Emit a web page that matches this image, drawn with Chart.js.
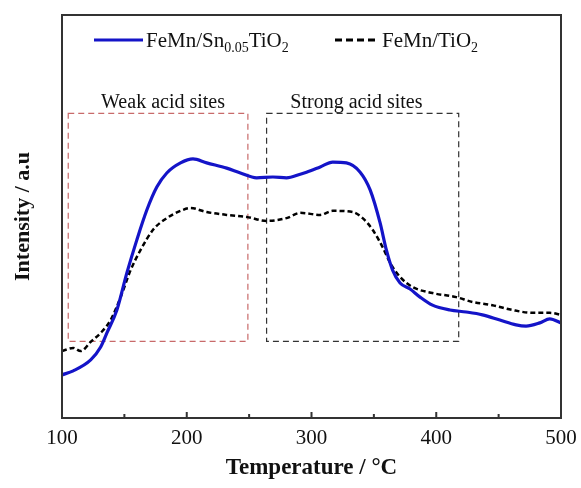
<!DOCTYPE html>
<html>
<head>
<meta charset="utf-8">
<script src="https://cdn.jsdelivr.net/npm/chart.js@4"></script>
<style>
  html, body { margin: 0; padding: 0; background: #fff; }
</style>
</head>
<body>
<canvas id="tpd-chart" width="581" height="488"></canvas>
<script>
// FeMn/Sn0.05TiO2 (blue, solid)
const tempSn = [100, 109, 123, 131, 136, 144, 152, 160, 168, 176, 184, 195, 205, 216, 232, 243, 256, 269, 280, 291, 296, 307, 317, 328, 339, 347, 355, 360, 365, 371, 379, 387, 397, 411, 424, 437, 451, 464, 472, 483, 491, 500];
const intensitySn = [10.7, 11.7, 14.4, 17.6, 21.1, 26.8, 36.0, 44.2, 51.6, 57.3, 60.8, 63.3, 64.3, 63.3, 62.0, 60.8, 59.6, 59.8, 59.6, 60.5, 61.0, 62.3, 63.5, 63.3, 61.0, 56.6, 48.4, 41.7, 36.7, 33.5, 32.0, 30.0, 28.0, 26.8, 26.3, 25.6, 24.3, 23.1, 22.8, 23.6, 24.6, 23.6];

// FeMn/TiO2 (black, dashed)
const tempTi = [100, 109, 115, 123, 131, 139, 147, 155, 163, 173, 184, 195, 203, 216, 232, 248, 264, 280, 291, 307, 317, 333, 341, 349, 357, 363, 371, 381, 397, 416, 429, 445, 461, 477, 491, 500];
const intensityTi = [16.6, 17.4, 16.6, 18.9, 21.1, 24.3, 30.0, 36.7, 41.7, 46.7, 49.6, 51.4, 52.1, 51.1, 50.4, 49.9, 48.9, 49.6, 50.9, 50.4, 51.4, 51.1, 49.6, 46.7, 42.4, 38.5, 35.0, 32.5, 31.0, 30.0, 28.8, 28.0, 26.8, 26.1, 26.1, 25.6];

const xTickValues = [100, 200, 300, 400, 500];
const minorTickValues = [150, 250, 350, 450];

const regionNames = ['Weak acid sites', 'Strong acid sites'];
const regionTempRanges = [[105, 249], [264, 418]];
const regionLabelTemps = [181, 336];
const regionIntensityRange = [19, 75.6];

const serif = "'Liberation Serif', 'Times New Roman', serif";

const toPoints = (xs, ys) => xs.map((x, i) => ({ x: x, y: ys[i] }));

// draws text runs, some of them as subscripts
const drawRichText = (ctx, runs, x, y, size, color) => {
    let cx = x;
    ctx.fillStyle = color;
    ctx.textAlign = 'left';
    ctx.textBaseline = 'alphabetic';
    runs.forEach(([txt, sub]) => {
        const fs = sub ? Math.round(size * 0.68) : size;
        ctx.font = fs + 'px ' + serif;
        ctx.fillText(txt, cx, sub ? y + 5 : y);
        cx += ctx.measureText(txt).width;
    });
};

const decorPlugin = {
    id: 'decor',
    beforeDatasetsDraw(chart) {
        const { ctx, scales: { x, y } } = chart;
        ctx.save();
        ctx.lineWidth = 1.2;
        ctx.setLineDash([6, 4]);
        const boxColors = ['#c86a6a', '#333333'];
        regionTempRanges.forEach((range, i) => {
            const left = x.getPixelForValue(range[0]);
            const right = x.getPixelForValue(range[1]);
            const top = y.getPixelForValue(regionIntensityRange[1]);
            const bottom = y.getPixelForValue(regionIntensityRange[0]);
            ctx.strokeStyle = boxColors[i];
            ctx.strokeRect(left, top, right - left, bottom - top);

            ctx.fillStyle = '#111';
            ctx.font = '20px ' + serif;
            ctx.textAlign = 'center';
            ctx.textBaseline = 'alphabetic';
            ctx.fillText(regionNames[i], x.getPixelForValue(regionLabelTemps[i]), top - 5);
        });
        ctx.restore();
    },
    afterDraw(chart) {
        const { ctx, chartArea: area, scales: { x } } = chart;
        ctx.save();
        // frame
        ctx.strokeStyle = '#333';
        ctx.lineWidth = 2;
        ctx.setLineDash([]);
        ctx.strokeRect(area.left, area.top, area.right - area.left, area.bottom - area.top);

        // inward ticks
        ctx.beginPath();
        xTickValues.forEach(v => {
            const px = x.getPixelForValue(v);
            ctx.moveTo(px, area.bottom);
            ctx.lineTo(px, area.bottom - 6);
        });
        minorTickValues.forEach(v => {
            const px = x.getPixelForValue(v);
            ctx.moveTo(px, area.bottom);
            ctx.lineTo(px, area.bottom - 4);
        });
        ctx.stroke();

        // legend
        const ly = area.top + 25;
        ctx.strokeStyle = '#1414c8';
        ctx.lineWidth = 3;
        ctx.beginPath();
        ctx.moveTo(94, ly);
        ctx.lineTo(143, ly);
        ctx.stroke();
        drawRichText(ctx, [['FeMn/Sn', false], ['0.05', true], ['TiO', false], ['2', true]], 146, ly + 7, 21, '#111');

        ctx.strokeStyle = '#000';
        ctx.setLineDash([7, 4]);
        ctx.beginPath();
        ctx.moveTo(335, ly);
        ctx.lineTo(378, ly);
        ctx.stroke();
        drawRichText(ctx, [['FeMn/TiO', false], ['2', true]], 382, ly + 7, 21, '#111');
        ctx.restore();
    }
};

const tpdChart = new Chart(document.querySelector('#tpd-chart'), {
    type: 'line',
    data: {
        datasets: [
            {
                label: 'FeMn/Sn0.05TiO2',
                data: toPoints(tempSn, intensitySn),
                borderColor: '#1414c8',
                borderWidth: 3.2,
                pointRadius: 0,
                cubicInterpolationMode: 'monotone',
            },
            {
                label: 'FeMn/TiO2',
                data: toPoints(tempTi, intensityTi),
                borderColor: '#000',
                borderWidth: 2.5,
                borderDash: [5, 3],
                pointRadius: 0,
                cubicInterpolationMode: 'monotone',
            }
        ]
    },
    options: {
        responsive: false,
        animation: false,
        devicePixelRatio: 1,
        layout: {
            padding: { top: 15, right: 20, left: 0, bottom: 0 }
        },
        plugins: {
            legend: { display: false },
            tooltip: { enabled: false }
        },
        scales: {
            x: {
                type: 'linear',
                min: 100,
                max: 500,
                afterFit: (scale) => {
                    scale.height = 70;
                    scale.paddingLeft = 0;
                    scale.paddingRight = 0;
                },
                afterBuildTicks: (scale) => { scale.ticks = xTickValues.map(v => ({ value: v })); },
                ticks: {
                    font: { family: serif, size: 21 },
                    color: '#111',
                    padding: 8,
                    maxRotation: 0
                },
                grid: { display: false, drawTicks: false },
                border: { color: '#333', width: 2 },
                title: {
                    display: true,
                    text: 'Temperature / °C',
                    font: { family: serif, size: 23, weight: 'bold' },
                    color: '#111',
                    padding: { top: 0, bottom: 6 }
                }
            },
            y: {
                min: 0,
                max: 100,
                afterFit: (scale) => { scale.width = 62; },
                ticks: { display: false },
                grid: { display: false, drawTicks: false },
                border: { color: '#333', width: 2 },
                title: {
                    display: true,
                    text: 'Intensity / a.u',
                    font: { family: serif, size: 22, weight: 'bold' },
                    color: '#111',
                    padding: { top: 10, bottom: 0 }
                }
            }
        }
    },
    plugins: [decorPlugin]
});
</script>
</body>
</html>
